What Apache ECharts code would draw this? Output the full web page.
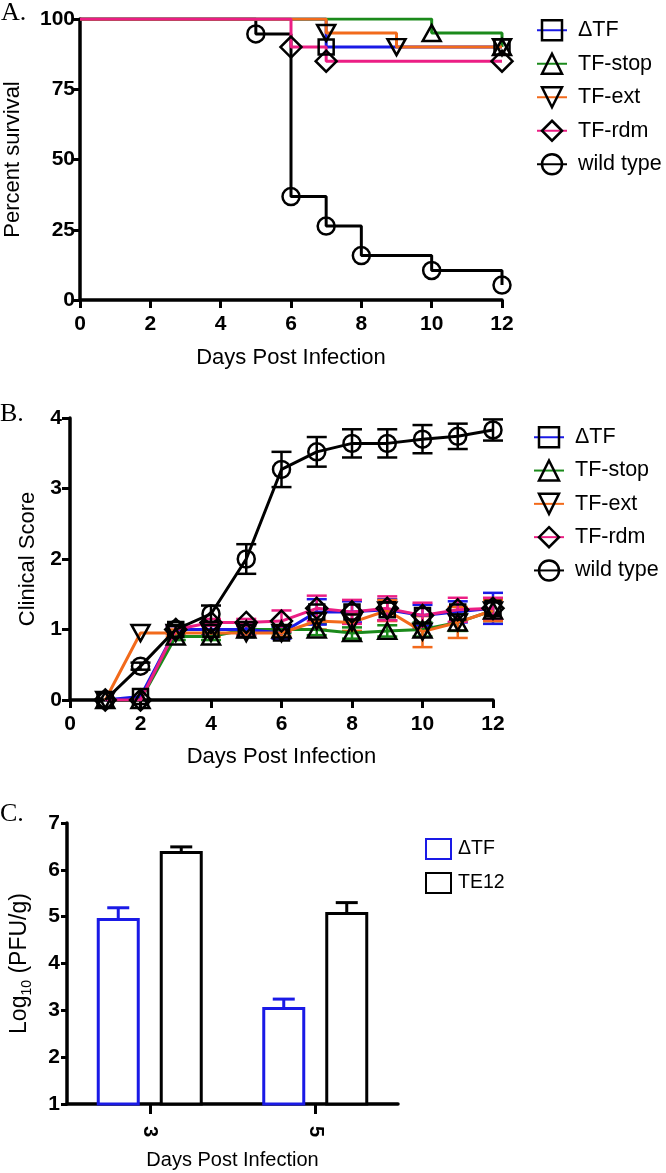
<!DOCTYPE html>
<html>
<head>
<meta charset="utf-8">
<script src="https://cdn.jsdelivr.net/npm/echarts@6/dist/echarts.min.js"></script>
<style>html,body{margin:0;padding:0;background:#fff}#c{width:666px;height:1173px}</style>
</head>
<body>
<div id="c"></div>
<script>
// ---------- Panel A: survival (Kaplan-Meier steps) ----------
const dTF_survDays = [0, 7, 12];
const dTF_surv = [100, 90, 90];
const stop_survDays = [0, 10, 12];
const stop_surv = [100, 95, 90];
const ext_survDays = [0, 7, 9, 12];
const ext_surv = [100, 95, 90, 90];
const rdm_survDays = [0, 6, 7, 12];
const rdm_surv = [100, 90, 85, 85];
const wt_survDays = [0, 5, 6, 7, 8, 10, 12];
const wt_surv = [100, 94.7, 36.8, 26.3, 15.8, 10.5, 5.3];

// ---------- Panel B: clinical score ----------
const scoreDays = [1, 2, 3, 4, 5, 6, 7, 8, 9, 10, 11, 12];
const dTF_score = [0, 0.05, 1.0, 1.0, 1.0, 0.95, 1.25, 1.25, 1.28, 1.2, 1.25, 1.3];
const dTF_scoreErr = [0, 0, 0.05, 0.08, 0.08, 0.08, 0.18, 0.15, 0.15, 0.15, 0.15, 0.22];
const stop_score = [0, 0, 0.9, 0.9, 1.0, 1.0, 1.0, 0.95, 0.98, 1.0, 1.1, 1.27];
const stop_scoreErr = [0, 0, 0.05, 0.05, 0.05, 0.05, 0.08, 0.08, 0.08, 0.1, 0.12, 0.15];
const ext_score = [0, 0.95, 0.95, 0.95, 0.95, 0.95, 1.12, 1.1, 1.27, 0.97, 1.1, 1.27];
const ext_scoreErr = [0, 0, 0.05, 0.05, 0.05, 0.05, 0.12, 0.12, 0.15, 0.22, 0.22, 0.15];
const rdm_score = [0, 0, 1.0, 1.1, 1.1, 1.12, 1.3, 1.25, 1.3, 1.2, 1.28, 1.3];
const rdm_scoreErr = [0, 0, 0.05, 0.05, 0.05, 0.15, 0.18, 0.17, 0.17, 0.18, 0.17, 0.15];
const wt_score = [0, 0.48, 1.0, 1.22, 2.0, 3.27, 3.52, 3.64, 3.64, 3.70, 3.74, 3.83];
const wt_scoreErr = [0, 0.05, 0.05, 0.12, 0.21, 0.25, 0.21, 0.2, 0.2, 0.2, 0.18, 0.15];

// ---------- Panel C: viral titer ----------
const titerDays = ['3', '5'];
const dTF_titer = [4.97, 3.07];
const dTF_titerErr = [0.22, 0.17];
const te12_titer = [6.4, 5.1];
const te12_titerErr = [0.09, 0.2];

const names = ['ΔTF', 'TF-stop', 'TF-ext', 'TF-rdm', 'wild type'];
const colors = {'ΔTF': '#1a1ae6', 'TF-stop': '#1b8a1b', 'TF-ext': '#f26a1b', 'TF-rdm': '#ec1e84', 'wild type': '#000000'};
const downTri = 'path://M0,0 L10,0 L5,9 Z';
const symbols = {'ΔTF': 'rect', 'TF-stop': 'triangle', 'TF-ext': downTri, 'TF-rdm': 'diamond', 'wild type': 'circle'};
const symSizes = {'ΔTF': 15, 'TF-stop': [18, 16], 'TF-ext': [18, 16], 'TF-rdm': 21, 'wild type': 17};

const FONT = 'Liberation Sans';
function axisCommon() {
  return {
    axisLine: {show: true, onZero: false, lineStyle: {color: '#000', width: 3.5}},
    axisTick: {show: true, length: 8, lineStyle: {color: '#000', width: 3}},
    splitLine: {show: false},
    axisLabel: {color: '#000', fontFamily: FONT, fontWeight: 'bold', fontSize: 21},
    nameTextStyle: {color: '#000', fontFamily: FONT, fontSize: 22}
  };
}
function lab(margin) {
  return {color: '#000', fontFamily: FONT, fontWeight: 'bold', fontSize: 21, margin: margin};
}

const survData = {
  'ΔTF': [dTF_survDays, dTF_surv],
  'TF-stop': [stop_survDays, stop_surv],
  'TF-ext': [ext_survDays, ext_surv],
  'TF-rdm': [rdm_survDays, rdm_surv],
  'wild type': [wt_survDays, wt_surv]
};
const scoreData = {
  'ΔTF': [dTF_score, dTF_scoreErr],
  'TF-stop': [stop_score, stop_scoreErr],
  'TF-ext': [ext_score, ext_scoreErr],
  'TF-rdm': [rdm_score, rdm_scoreErr],
  'wild type': [wt_score, wt_scoreErr]
};

const series = [];
const drawOrder = ['wild type', 'ΔTF', 'TF-stop', 'TF-ext', 'TF-rdm'];
drawOrder.forEach(n => {
  const [xs, ys] = survData[n];
  series.push({
    type: 'line', name: n, xAxisIndex: 0, yAxisIndex: 0, step: 'end',
    symbol: symbols[n], symbolSize: symSizes[n],
    data: xs.map((x, i) => i === 0 ? {value: [x, ys[i]], symbol: 'none'} : [x, ys[i]]),
    lineStyle: {color: colors[n], width: 3},
    itemStyle: {color: 'rgba(255,255,255,0)', borderColor: '#000', borderWidth: 2.5},
    animation: false, z: 2
  });
});

const bOrder = ['TF-stop', 'ΔTF', 'TF-ext', 'TF-rdm', 'wild type'];
bOrder.forEach(n => {
  const [ys, es] = scoreData[n];
  series.push({
    type: 'custom', name: n, xAxisIndex: 1, yAxisIndex: 1, z: 1, animation: false,
    data: scoreDays.map((d, i) => [d, ys[i], es[i]]),
    renderItem: function (params, api) {
      const x = api.value(0), y = api.value(1), e = api.value(2);
      if (!e) return null;
      const t = api.coord([x, y + e]), b = api.coord([x, y - e]);
      const w = 10;
      const st = {stroke: colors[n], lineWidth: 2.5};
      return {type: 'group', children: [
        {type: 'line', shape: {x1: t[0], y1: t[1], x2: b[0], y2: b[1]}, style: st},
        {type: 'line', shape: {x1: t[0] - w, y1: t[1], x2: t[0] + w, y2: t[1]}, style: st},
        {type: 'line', shape: {x1: b[0] - w, y1: b[1], x2: b[0] + w, y2: b[1]}, style: st}
      ]};
    }
  });
});
bOrder.forEach(n => {
  const [ys] = scoreData[n];
  series.push({
    type: 'line', name: n, xAxisIndex: 1, yAxisIndex: 1, z: 2, animation: false,
    symbol: symbols[n], symbolSize: symSizes[n],
    data: scoreDays.map((d, i) => [d, ys[i]]),
    lineStyle: {color: colors[n], width: 3},
    itemStyle: {color: 'rgba(255,255,255,0)', borderColor: '#000', borderWidth: 2.5}
  });
});

// Panel C bars
const cColors = ['#1a1ae6', '#000000'];
const cNames = ['ΔTF ', 'TE12'];
const cVals = [dTF_titer, te12_titer];
const cErrs = [dTF_titerErr, te12_titerErr];
const barW = 43, barGapPx = 20;
cNames.forEach((n, k) => {
  series.push({
    type: 'bar', name: n, xAxisIndex: 2, yAxisIndex: 2, animation: false,
    barWidth: barW, barGap: (barGapPx / barW * 100) + '%',
    data: cVals[k],
    itemStyle: {color: '#fff', borderColor: cColors[k], borderWidth: 3},
    z: 2
  });
});
cNames.forEach((n, k) => {
  const off = (k === 0 ? -1 : 1) * (barW + barGapPx) / 2;
  series.push({
    type: 'custom', name: n + 'err', xAxisIndex: 2, yAxisIndex: 2, z: 1, animation: false,
    data: titerDays.map((d, i) => [i, cVals[k][i], cErrs[k][i]]),
    renderItem: function (params, api) {
      const i = api.value(0), y = api.value(1), e = api.value(2);
      const t = api.coord([i, y + e]), b = api.coord([i, y]);
      const x = t[0] + off;
      const st = {stroke: cColors[k], lineWidth: 3};
      return {type: 'group', children: [
        {type: 'line', shape: {x1: x, y1: t[1], x2: x, y2: b[1]}, style: st},
        {type: 'line', shape: {x1: x - 11, y1: t[1], x2: x + 11, y2: t[1]}, style: st}
      ]};
    }
  });
});

const legendText = {color: '#000', fontFamily: FONT, fontSize: 21.5, padding: [0, 0, 0, 6]};
const option = {
  animation: false,
  backgroundColor: '#fff',
  grid: [
    {left: 80, top: 19, width: 422, height: 281, outerBoundsMode: 'none', containLabel: false},
    {left: 70, top: 418, width: 423, height: 282, outerBoundsMode: 'none', containLabel: false},
    {left: 67, top: 823, width: 331, height: 281, outerBoundsMode: 'none', containLabel: false}
  ],
  xAxis: [
    Object.assign(axisCommon(), {gridIndex: 0, type: 'value', min: 0, max: 12, interval: 2,
      axisLabel: lab(14),
      name: 'Days Post Infection', nameLocation: 'middle', nameGap: 47}),
    Object.assign(axisCommon(), {gridIndex: 1, type: 'value', min: 0, max: 12, interval: 2,
      axisLabel: lab(14),
      name: 'Days Post Infection', nameLocation: 'middle', nameGap: 46}),
    Object.assign(axisCommon(), {gridIndex: 2, type: 'category', data: titerDays,
      axisTick: {show: true, alignWithLabel: true, length: 10, lineStyle: {color: '#000', width: 3}},
      axisLabel: {color: '#000', fontFamily: FONT, fontWeight: 'bold', fontSize: 20, rotate: -90, margin: 22},
      name: 'Days Post Infection', nameLocation: 'middle', nameGap: 46,
      nameTextStyle: {color: '#000', fontFamily: FONT, fontSize: 20}})
  ],
  yAxis: [
    Object.assign(axisCommon(), {gridIndex: 0, type: 'value', min: 0, max: 100, interval: 25,
      axisLabel: lab(5),
      name: 'Percent survival', nameLocation: 'middle', nameGap: 56}),
    Object.assign(axisCommon(), {gridIndex: 1, type: 'value', min: 0, max: 4, interval: 1,
      axisLabel: lab(8),
      name: 'Clinical Score', nameLocation: 'middle', nameGap: 31}),
    Object.assign(axisCommon(), {gridIndex: 2, type: 'value', min: 1, max: 7, interval: 1,
      axisTick: {show: true, length: 6, lineStyle: {color: '#000', width: 3}},
      axisLabel: lab(7),
      name: '{a|Log}{b|10}{a| (PFU/g)}', nameLocation: 'middle', nameGap: 33,
      nameTextStyle: {color: '#000', fontFamily: FONT, fontSize: 23,
        rich: {a: {fontFamily: FONT, fontSize: 23, color: '#000', lineHeight: 28},
               b: {fontFamily: FONT, fontSize: 14, color: '#000', verticalAlign: 'bottom', lineHeight: 15}}}})
  ],
  legend: [
    {data: names, orient: 'vertical', left: 531, top: 14, itemWidth: 30, itemHeight: 25, itemGap: 11,
      itemStyle: {borderColor: '#000', borderWidth: 2.5},
      textStyle: legendText, selectedMode: false},
    {data: names, orient: 'vertical', left: 528, top: 421, itemWidth: 30, itemHeight: 25, itemGap: 10.8,
      itemStyle: {borderColor: '#000', borderWidth: 2.5},
      textStyle: legendText, selectedMode: false},
    {data: cNames, orient: 'vertical', left: 420, top: 833, itemWidth: 25, itemHeight: 20, itemGap: 12,
      icon: 'rect', textStyle: {color: '#000', fontFamily: FONT, fontSize: 19.5, padding: [0, 0, 0, 2]},
      selectedMode: false}
  ],
  graphic: [
    {type: 'text', left: 1, top: 0, style: {text: 'A.', font: '26px "Liberation Serif"', fill: '#000'}},
    {type: 'text', left: 0, top: 401, style: {text: 'B.', font: '26px "Liberation Serif"', fill: '#000'}},
    {type: 'text', left: 0, top: 801, style: {text: 'C.', font: '26px "Liberation Serif"', fill: '#000'}}
  ],
  series: series
};
const chart = echarts.init(document.getElementById('c'), null, {renderer: 'canvas'});
chart.setOption(option);
</script>
</body>
</html>
